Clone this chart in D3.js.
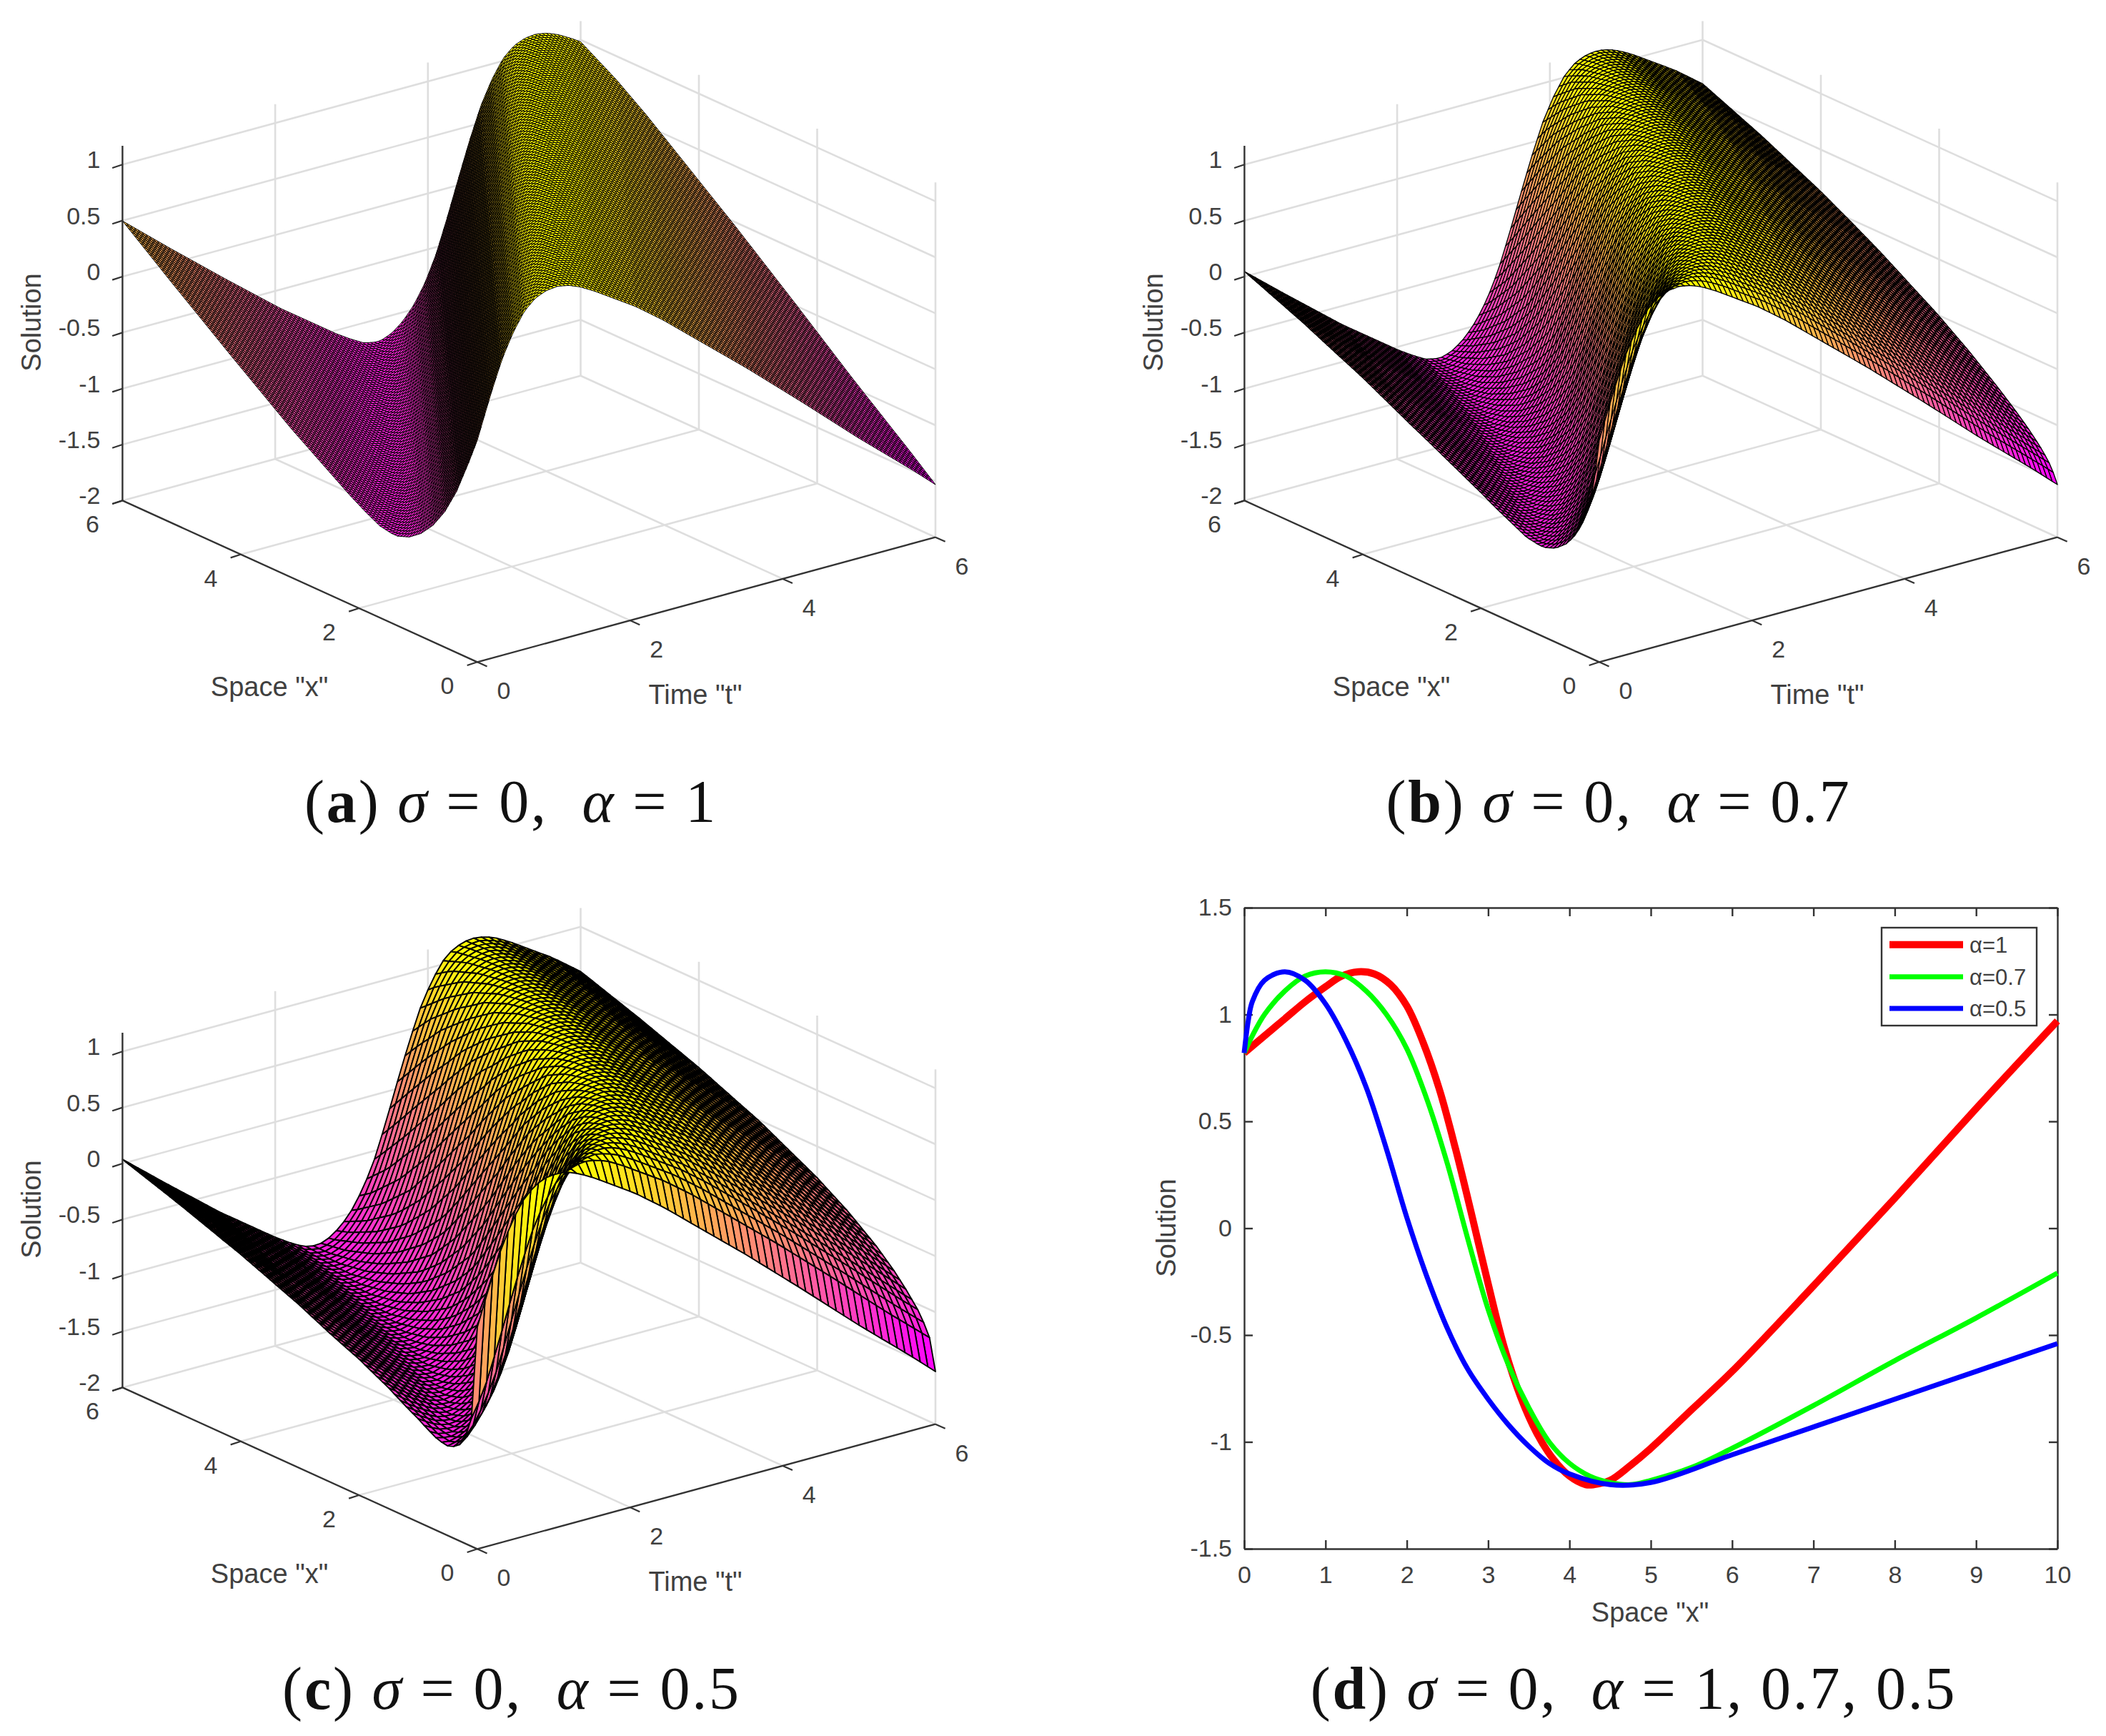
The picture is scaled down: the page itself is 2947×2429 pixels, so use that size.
<!DOCTYPE html>
<html>
<head>
<meta charset="utf-8">
<script src="https://d3js.org/d3.v7.min.js"></script>
<style>
  body { background: #fff; margin: 0; }
  text { font-family: "Liberation Sans", Arial, sans-serif; fill: #404040; }
  .caption { font-family: "Liberation Serif", serif; fill: #111; font-size: 84px; letter-spacing: 2.8px; }
  .caption .it { font-style: italic; }
  .caption .bf { font-weight: bold; }
  .domain, .tick line { stroke: #333; stroke-width: 2.4; }
</style>
</head>
<body>
<div id="area"></div>
<script>
var waveXi = [-5.4, -5, -4, -3, -2, -1, -0.5, 0, 0.25, 0.5, 0.75, 1, 1.2, 1.4, 1.6, 1.8, 2, 2.2, 2.4, 2.6, 2.8, 3, 3.2, 3.4, 3.6, 3.8, 4, 4.2, 4.3, 4.5, 4.75, 5, 5.5, 6, 7, 8, 9, 10];
var waveU = [-1.53, -1.35, -0.92, -0.47, -0.03, 0.39, 0.6, 0.79, 0.87, 0.95, 1.03, 1.1, 1.14, 1.16, 1.15, 1.11, 1.02, 0.86, 0.65, 0.37, 0.06, -0.26, -0.56, -0.79, -0.96, -1.08, -1.16, -1.2, -1.2, -1.18, -1.11, -1.03, -0.85, -0.67, -0.27, 0.14, 0.56, 0.97];

// where each space position sits on the wave, per panel
var spaceNodes = [0, 0.1, 0.2, 0.3, 0.5, 0.7, 1, 1.5, 2, 3, 4, 5, 6];
var spaceShiftA = [0, 0.1, 0.2, 0.3, 0.5, 0.7, 1, 1.5, 2, 3, 4, 5, 6];
var spaceShiftB = [0, 0.29, 0.46, 0.62, 0.88, 1.11, 1.43, 1.9, 2.32, 3.08, 3.77, 4.38, 4.92];
var spaceShiftC = [0, 0.63, 0.89, 1.1, 1.41, 1.67, 2, 2.45, 2.83, 3.46, 4, 4.47, 4.9];
var timeNodes = [0, 6];
var timeShift = [-2.85, 5.4];

// curves of panel (d)
var redX = [0, 0.25, 0.5, 0.75, 1, 1.2, 1.4, 1.6, 1.8, 2, 2.2, 2.4, 2.6, 2.8, 3, 3.2, 3.4, 3.6, 3.8, 4, 4.2, 4.3, 4.5, 4.75, 5, 5.5, 6, 7, 8, 9, 10];
var redY = [0.82, 0.9, 0.98, 1.06, 1.13, 1.18, 1.2, 1.19, 1.14, 1.04, 0.87, 0.65, 0.37, 0.06, -0.26, -0.56, -0.79, -0.96, -1.08, -1.16, -1.2, -1.2, -1.18, -1.11, -1.03, -0.85, -0.67, -0.27, 0.14, 0.56, 0.97];
var greenX = [0, 0.1, 0.25, 0.5, 0.75, 1, 1.25, 1.5, 1.75, 2, 2.25, 2.5, 2.75, 3, 3.25, 3.5, 3.75, 4, 4.25, 4.5, 4.75, 5, 5.5, 6, 7, 8, 9, 10];
var greenY = [0.82, 0.9, 1, 1.11, 1.18, 1.2, 1.18, 1.11, 1, 0.84, 0.6, 0.3, -0.05, -0.38, -0.64, -0.84, -1, -1.1, -1.16, -1.19, -1.2, -1.18, -1.12, -1.03, -0.83, -0.62, -0.42, -0.21];
var blueX = [0, 0.05, 0.1, 0.25, 0.5, 0.75, 1, 1.25, 1.5, 1.75, 2, 2.25, 2.5, 2.75, 3, 3.25, 3.5, 3.75, 4, 4.5, 5, 6, 7, 8, 9, 10];
var blueY = [0.82, 0.97, 1.06, 1.16, 1.2, 1.16, 1.05, 0.88, 0.66, 0.37, 0.05, -0.23, -0.47, -0.66, -0.8, -0.92, -1.02, -1.1, -1.15, -1.2, -1.19, -1.06, -0.93, -0.8, -0.67, -0.54];

// axes labels and ticks
var zTicks = [-2, -1.5, -1, -0.5, 0, 0.5, 1];
var groundTicks = [0, 2, 4, 6];
var xTicksD = [0, 1, 2, 3, 4, 5, 6, 7, 8, 9, 10];
var yTicksD = [-1.5, -1, -0.5, 0, 0.5, 1, 1.5];
var legendLabels = ["α=1", "α=0.7", "α=0.5"];

var svg = d3.select("#area").append("svg")
  .attr("width", 2947)
  .attr("height", 2429);

var wave = d3.scaleLinear().domain(waveXi).range(waveU).clamp(true);
var timePos = d3.scaleLinear().domain(timeNodes).range(timeShift);
var spring = d3.scaleLinear().domain([-1.53, 1.16]).range(["#ff00ff", "#ffff00"]);

// oblique view of the box, front corner is x=0 t=0 z=-2
var originX = 667.9, originY = 926.3;
var xPx = d3.scaleLinear().domain([0, 6]).range([0, -496.5]);
var xPy = d3.scaleLinear().domain([0, 6]).range([0, -225.9]);
var tPx = d3.scaleLinear().domain([0, 6]).range([0, 641.1]);
var tPy = d3.scaleLinear().domain([0, 6]).range([0, -174.6]);
var zPy = d3.scaleLinear().domain([-2, 1.168]).range([0, -496.4]);

function proj(x, t, z) {
  return [originX + xPx(x) + tPx(t), originY + xPy(x) + tPy(t) + zPy(z)];
}

function seg(g, a, b, color, w) {
  g.append("line")
    .attr("x1", a[0]).attr("y1", a[1])
    .attr("x2", b[0]).attr("y2", b[1])
    .attr("stroke", color)
    .attr("stroke-width", w);
}

function drawBox(g) {
  var grid = "#dedede", zTop = 1.168;
  // floor
  [2, 4, 6].forEach(function (v) {
    seg(g, proj(6, v, -2), proj(0, v, -2), grid, 2.6);
    seg(g, proj(v, 0, -2), proj(v, 6, -2), grid, 2.6);
  });
  // walls
  zTicks.slice(1).forEach(function (z) {
    seg(g, proj(6, 0, z), proj(6, 6, z), grid, 2.6);
    seg(g, proj(6, 6, z), proj(0, 6, z), grid, 2.6);
  });
  [2, 4, 6].forEach(function (v) {
    seg(g, proj(6, v, -2), proj(6, v, zTop), grid, 2.6);
    seg(g, proj(6 - v, 6, -2), proj(6 - v, 6, zTop), grid, 2.6);
  });
}

function drawSurface(g, spaceShift, cellCount, lineW) {
  var spacePos = d3.scaleLinear().domain(spaceNodes).range(spaceShift);
  var mesh = d3.range(0, cellCount + 1).map(function (i) { return i * 6 / cellCount; });
  var u = function (x, t) { return wave(spacePos(x) - timePos(t)); };
  var cells = [];
  // far cells first
  for (var i = cellCount - 1; i >= 0; i--) {
    for (var j = cellCount - 1; j >= 0; j--) {
      cells.push({i: i, j: j});
    }
  }
  g.append("g").selectAll("path")
    .data(cells)
    .enter()
    .append("path")
      .attr("d", function (c) {
        var x0 = mesh[c.j], x1 = mesh[c.j + 1], t0 = mesh[c.i], t1 = mesh[c.i + 1];
        return "M" + [proj(x0, t0, u(x0, t0)), proj(x1, t0, u(x1, t0)), proj(x1, t1, u(x1, t1)), proj(x0, t1, u(x0, t1))].join("L") + "Z";
      })
      .attr("fill", function (c) { return spring(u(mesh[c.j], mesh[c.i])); })
      .attr("stroke", "#000")
      .attr("stroke-width", lineW)
      .attr("stroke-linejoin", "round");
}

function drawAxes3d(g) {
  var ax = "#333", tickLen = 15;
  seg(g, proj(6, 0, -2), proj(0, 0, -2), ax, 2.4);
  seg(g, proj(0, 0, -2), proj(0, 6, -2), ax, 2.4);
  seg(g, proj(6, 0, -2), proj(6, 0, 1.168), ax, 2.4);
  var tUnit = [-0.95, 0.31], xUnit = [0.91, 0.41];
  groundTicks.forEach(function (v) {
    var a = proj(v, 0, -2), b = proj(0, v, -2);
    seg(g, a, [a[0] + tUnit[0] * tickLen, a[1] + tUnit[1] * tickLen], ax, 2.2);
    seg(g, b, [b[0] + xUnit[0] * tickLen, b[1] + xUnit[1] * tickLen], ax, 2.2);
    g.append("text").attr("x", a[0] - 42).attr("y", a[1] + 45)
      .attr("text-anchor", "middle").attr("font-size", 34).text(v);
    g.append("text").attr("x", b[0] + 37).attr("y", b[1] + 52)
      .attr("text-anchor", "middle").attr("font-size", 34).text(v);
  });
  zTicks.forEach(function (z) {
    var a = proj(6, 0, z);
    seg(g, a, [a[0] + tUnit[0] * tickLen, a[1] + tUnit[1] * tickLen], ax, 2.2);
    g.append("text").attr("x", a[0] - 31).attr("y", a[1] + 5)
      .attr("text-anchor", "end").attr("font-size", 34).text(z);
  });
  g.append("text").attr("x", 377).attr("y", 974)
    .attr("text-anchor", "middle").attr("font-size", 38).text('Space "x"');
  g.append("text").attr("x", 973).attr("y", 985)
    .attr("text-anchor", "middle").attr("font-size", 38).text('Time "t"');
  g.append("text").attr("transform", "translate(57,451)rotate(-90)")
    .attr("text-anchor", "middle").attr("font-size", 38).text("Solution");
}

function drawPanel3d(dx, dy, spaceShift, cellCount, lineW) {
  var g = svg.append("g").attr("transform", "translate(" + dx + "," + dy + ")");
  drawBox(g);
  drawSurface(g, spaceShift, cellCount, lineW);
  drawAxes3d(g);
}

drawPanel3d(0, 0, spaceShiftA, 120, 1);
drawPanel3d(1570, 0, spaceShiftB, 86, 1.35);
drawPanel3d(0, 1241, spaceShiftC, 60, 1.9);

// panel (d)
var x = d3.scaleLinear().domain([0, 10]).range([1741, 2879]);
var y = d3.scaleLinear().domain([-1.5, 1.5]).range([2167, 1270]);
var line = d3.line()
  .x(function (d) { return x(d[0]); })
  .y(function (d) { return y(d[1]); })
  .curve(d3.curveCatmullRom.alpha(0.5));

function styleAxis(sel) {
  sel.selectAll("text").attr("font-size", 34).attr("fill", "#404040");
}

svg.append("g").attr("transform", "translate(0,2167)")
  .call(d3.axisBottom(x).tickValues(xTicksD).tickSizeOuter(0).tickSizeInner(-12).tickPadding(24).tickFormat(d3.format("d")))
  .call(styleAxis);
svg.append("g").attr("transform", "translate(1741,0)")
  .call(d3.axisLeft(y).tickValues(yTicksD).tickSizeOuter(0).tickSizeInner(-12).tickPadding(17).tickFormat(function (d) { return d; }))
  .call(styleAxis);
svg.append("g").attr("transform", "translate(0,1270)")
  .call(d3.axisTop(x).tickValues(xTicksD).tickSizeOuter(0).tickSizeInner(-12).tickFormat(""));
svg.append("g").attr("transform", "translate(2879,0)")
  .call(d3.axisRight(y).tickValues(yTicksD).tickSizeOuter(0).tickSizeInner(-12).tickFormat(""));

var series = [
  {xs: redX, ys: redY, color: "#ff0000", w: 10},
  {xs: greenX, ys: greenY, color: "#00ff00", w: 7},
  {xs: blueX, ys: blueY, color: "#0000ff", w: 7}
];
series.forEach(function (s) {
  svg.append("path")
    .datum(d3.zip(s.xs, s.ys))
    .attr("d", line)
    .attr("fill", "none")
    .attr("stroke", s.color)
    .attr("stroke-width", s.w);
});

svg.append("text").attr("x", 2309).attr("y", 2269)
  .attr("text-anchor", "middle").attr("font-size", 38).text('Space "x"');
svg.append("text").attr("transform", "translate(1645,1718)rotate(-90)")
  .attr("text-anchor", "middle").attr("font-size", 38).text("Solution");

// legend
svg.append("rect")
  .attr("x", 2633).attr("y", 1298)
  .attr("width", 217).attr("height", 137)
  .attr("fill", "#fff")
  .attr("stroke", "#333")
  .attr("stroke-width", 2.4);
var legendRows = [1321.7, 1366.7, 1411];
series.forEach(function (s, i) {
  seg(svg, [2644, legendRows[i]], [2747, legendRows[i]], s.color, s.w);
  svg.append("text")
    .attr("x", 2756).attr("y", legendRows[i] + 11)
    .attr("font-size", 31)
    .text(legendLabels[i]);
});

// captions
var captions = [
  {cx: 715, by: 1150, tag: "a", alpha: "1"},
  {cx: 2265, by: 1150, tag: "b", alpha: "0.7"},
  {cx: 716, by: 2391, tag: "c", alpha: "0.5"},
  {cx: 2286, by: 2391, tag: "d", alpha: "1, 0.7, 0.5"}
];
captions.forEach(function (c) {
  var t = svg.append("text").attr("class", "caption")
    .attr("x", c.cx).attr("y", c.by)
    .attr("text-anchor", "middle")
    .attr("xml:space", "preserve");
  t.append("tspan").text("(");
  t.append("tspan").attr("class", "bf").text(c.tag);
  t.append("tspan").text(") ");
  t.append("tspan").attr("class", "it").text("σ");
  t.append("tspan").text(" = 0,  ");
  t.append("tspan").attr("class", "it").text("α");
  t.append("tspan").text(" = " + c.alpha);
});
</script>
</body>
</html>
